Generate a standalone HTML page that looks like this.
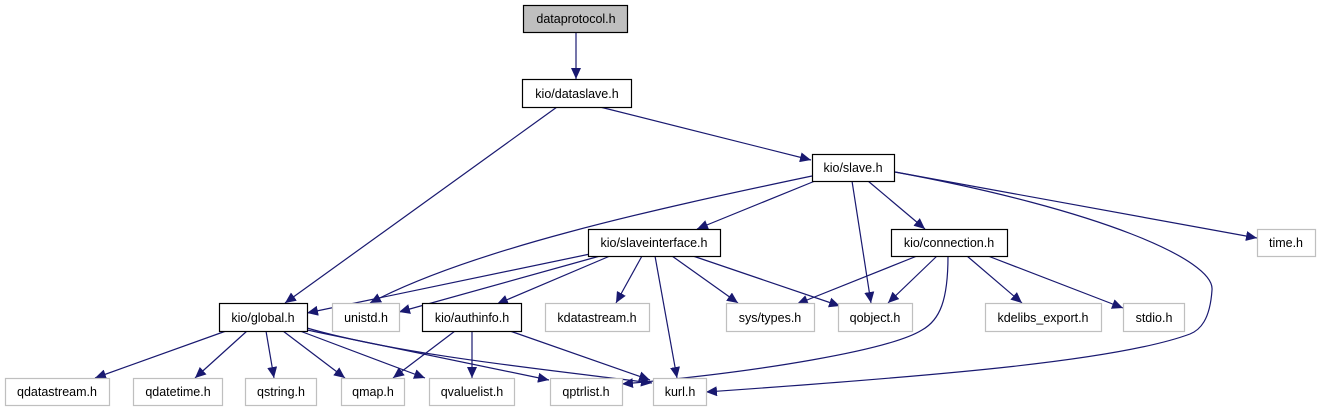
<!DOCTYPE html>
<html><head><meta charset="utf-8"><style>
html,body{margin:0;padding:0;background:#fff;}
svg{display:block;}
text{font-family:"Liberation Sans",sans-serif;font-size:12.5px;fill:#000;}
</style></head><body>
<svg width="1319" height="411" viewBox="0 0 1319 411" xmlns="http://www.w3.org/2000/svg">
<defs>
<marker id="a" markerUnits="userSpaceOnUse" markerWidth="12" markerHeight="10" refX="11" refY="5" orient="auto">
<path d="M0,0 L11,5 L0,10 z" fill="#191970"/>
</marker>
</defs>
<g fill="none" stroke="#191970" stroke-width="1.2" marker-end="url(#a)">
<path d="M576,32 L576,79"/>
<path d="M557,107 L285,303"/>
<path d="M600,107 L811,160"/>
<path d="M812,176 C650,210 470,250 370,303"/>
<path d="M815,181 L697,229"/>
<path d="M852,181 L871,303"/>
<path d="M868,181 L925,229"/>
<path d="M895,172 L1257,238"/>
<path d="M895,172 C1100,210 1215,260 1212,290 C1210,320 1200,330 1190,334 C1120,360 950,375 706,392"/>
<path d="M590,254 L307,313"/>
<path d="M600,256 L399,312"/>
<path d="M610,256 L497,304"/>
<path d="M642,256 L616,303"/>
<path d="M655,256 L677,378"/>
<path d="M672,256 L738,303"/>
<path d="M693,256 L840,306"/>
<path d="M917,256 L797,304"/>
<path d="M937,256 L888,303"/>
<path d="M948,256 C948,300 940,320 922,330 C890,350 760,372 622,384"/>
<path d="M967,256 L1022,303"/>
<path d="M988,256 L1123,308"/>
<path d="M226,331 L95,378"/>
<path d="M247,331 L195,378"/>
<path d="M266,331 L274,378"/>
<path d="M283,331 L345,378"/>
<path d="M300,331 L425,378"/>
<path d="M307,330 L549,380"/>
<path d="M307,328 C400,355 550,370 652,383"/>
<path d="M455,331 L393,378"/>
<path d="M472,331 L472,378"/>
<path d="M510,331 L650,380"/>
</g>
<g stroke-width="1.2">
<rect x="523.5" y="5.5" width="104" height="27" fill="#bfbfbf" stroke="#000"/>
<rect x="522.5" y="79.5" width="109" height="28" fill="#fff" stroke="#000"/>
<rect x="812.5" y="154.5" width="82" height="27" fill="#fff" stroke="#000"/>
<rect x="588.5" y="229.5" width="132" height="27" fill="#fff" stroke="#000"/>
<rect x="891.5" y="229.5" width="116" height="27" fill="#fff" stroke="#000"/>
<rect x="1257.5" y="229.5" width="58" height="27" fill="#fff" stroke="#bfbfbf"/>
<rect x="219.5" y="303.5" width="88" height="28" fill="#fff" stroke="#000"/>
<rect x="332.5" y="303.5" width="67" height="28" fill="#fff" stroke="#bfbfbf"/>
<rect x="422.5" y="303.5" width="99" height="28" fill="#fff" stroke="#000"/>
<rect x="545.5" y="303.5" width="104" height="28" fill="#fff" stroke="#bfbfbf"/>
<rect x="726.5" y="303.5" width="88" height="28" fill="#fff" stroke="#bfbfbf"/>
<rect x="838.5" y="303.5" width="74" height="28" fill="#fff" stroke="#bfbfbf"/>
<rect x="985.5" y="303.5" width="116" height="28" fill="#fff" stroke="#bfbfbf"/>
<rect x="1123.5" y="303.5" width="61" height="28" fill="#fff" stroke="#bfbfbf"/>
<rect x="5.5" y="378.5" width="104" height="27" fill="#fff" stroke="#bfbfbf"/>
<rect x="133.5" y="378.5" width="89" height="27" fill="#fff" stroke="#bfbfbf"/>
<rect x="245.5" y="378.5" width="71" height="27" fill="#fff" stroke="#bfbfbf"/>
<rect x="341.5" y="378.5" width="63" height="27" fill="#fff" stroke="#bfbfbf"/>
<rect x="429.5" y="378.5" width="85" height="27" fill="#fff" stroke="#bfbfbf"/>
<rect x="550.5" y="378.5" width="72" height="27" fill="#fff" stroke="#bfbfbf"/>
<rect x="653.5" y="378.5" width="53" height="27" fill="#fff" stroke="#bfbfbf"/>
</g>
<g text-anchor="middle">
<text x="576" y="23">dataprotocol.h</text>
<text x="577" y="98">kio/dataslave.h</text>
<text x="853" y="172">kio/slave.h</text>
<text x="654" y="247">kio/slaveinterface.h</text>
<text x="949" y="247">kio/connection.h</text>
<text x="1286" y="247">time.h</text>
<text x="263" y="322">kio/global.h</text>
<text x="366" y="322">unistd.h</text>
<text x="472" y="322">kio/authinfo.h</text>
<text x="597" y="322">kdatastream.h</text>
<text x="770" y="322">sys/types.h</text>
<text x="875" y="322">qobject.h</text>
<text x="1043" y="322">kdelibs_export.h</text>
<text x="1154" y="322">stdio.h</text>
<text x="57" y="396">qdatastream.h</text>
<text x="178" y="396">qdatetime.h</text>
<text x="281" y="396">qstring.h</text>
<text x="373" y="396">qmap.h</text>
<text x="472" y="396">qvaluelist.h</text>
<text x="586" y="396">qptrlist.h</text>
<text x="680" y="396">kurl.h</text>
</g>
</svg>
</body></html>
